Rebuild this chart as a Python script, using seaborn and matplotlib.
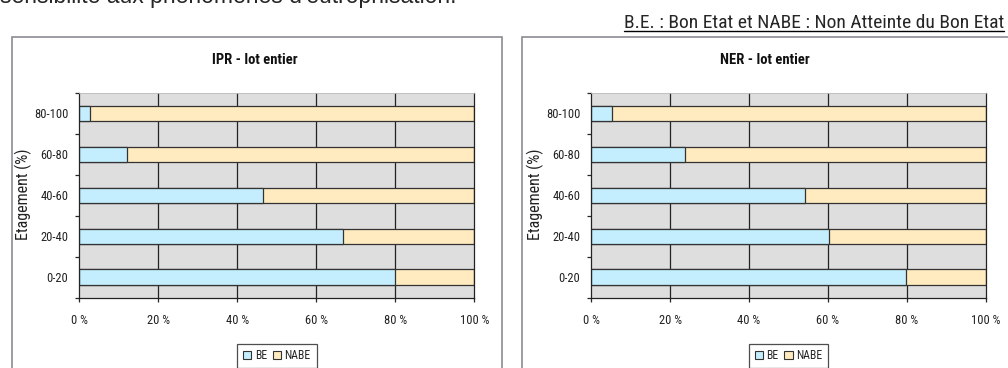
import numpy as np
import pandas as pd
import seaborn as sns
from matplotlib import pyplot as plt
from matplotlib.patches import Rectangle, Patch
from matplotlib.lines import Line2D

# classes d'etagement (du haut vers le bas)
classes = ["80-100", "60-80", "40-60", "20-40", "0-20"]

# parts en % de Bon Etat / Non Atteinte du Bon Etat
ipr_be = [2.8, 12.1, 46.5, 66.7, 79.8]
ipr_nabe = [97.2, 87.9, 53.5, 33.3, 20.2]
ner_be = [5.3, 23.8, 54.1, 60.3, 79.9]
ner_nabe = [94.7, 76.2, 45.9, 39.7, 20.1]

x_ticks = [0, 20, 40, 60, 80, 100]
x_labels = ["0 %", "20 %", "40 %", "60 %", "80 %", "100 %"]

BE_COLOR = "#c4eefd"
NABE_COLOR = "#ffebbf"
NARROW = ["Liberation Sans Narrow", "Roboto Condensed", "Liberation Sans", "DejaVu Sans"]

sns.set_style("white")
plt.rcParams["font.family"] = NARROW

W, H = 1008, 368


def fx(px):
    return px / W


def fy(py):
    return 1 - py / H


def stacked_panel(fig, rect, title, title_x, be, nabe):
    ax = fig.add_axes(rect)
    df = pd.DataFrame({"classe": classes, "BE": be,
                       "total": np.array(be) + np.array(nabe)})
    ax.set_facecolor("#dedede")
    ax.set_axisbelow(True)
    for v in x_ticks[1:-1]:
        ax.axvline(v, color="#222222", lw=0.9, zorder=0)
    sns.barplot(data=df, x="total", y="classe", order=classes, color=NABE_COLOR,
                width=0.37, edgecolor="#333333", linewidth=0.9, saturation=1, ax=ax)
    sns.barplot(data=df, x="BE", y="classe", order=classes, color=BE_COLOR,
                width=0.37, edgecolor="#333333", linewidth=0.9, saturation=1, ax=ax)
    ax.set_xlim(0, 100)
    ax.set_ylim(4.5, -0.5)
    ax.set_xticks(x_ticks)
    ax.set_xticklabels(x_labels, fontsize=9, color="#222222")
    ax.tick_params(axis="x", length=3, width=0.9, pad=9, direction="out", bottom=True)
    ax.set_yticks(range(len(classes)))
    ax.set_yticklabels(classes, fontsize=9, color="#222222")
    ax.tick_params(axis="y", length=0, pad=8)
    ax.set_yticks(np.arange(-0.5, 5, 1), minor=True)
    ax.tick_params(axis="y", which="minor", length=3, width=0.9, left=True)
    ax.set_xlabel("")
    ax.set_ylabel("Etagement (%)", fontsize=11.5, color="#222222")
    ax.yaxis.set_label_coords(-0.12, 0.506)
    for side in ["left", "bottom", "right"]:
        ax.spines[side].set_color("#222222")
        ax.spines[side].set_linewidth(0.9)
    ax.spines["top"].set_color("#bbbbbb")
    ax.spines["top"].set_linewidth(0.6)

    fig.text(title_x, fy(60), title, ha="center", va="center",
             fontsize=10.5, fontweight="bold", color="#111111")

    handles = [Patch(facecolor=BE_COLOR, edgecolor="#333333", lw=0.8, label="BE"),
               Patch(facecolor=NABE_COLOR, edgecolor="#333333", lw=0.8, label="NABE")]
    leg = ax.legend(handles=handles, loc="upper center", bbox_to_anchor=(0.5, -0.225),
                    ncol=2, fontsize=8.5, frameon=True, fancybox=False,
                    handlelength=0.7, handleheight=0.7, handletextpad=0.3,
                    columnspacing=0.5, borderpad=0.5, borderaxespad=0)
    leg.get_frame().set_edgecolor("#222222")
    leg.get_frame().set_linewidth(0.9)
    return ax


fig = plt.figure(figsize=(W / 100, H / 100), dpi=100)

# cadres des graphiques
for x0, x1 in [(12, 502), (522, 1015)]:
    fig.add_artist(Rectangle((fx(x0), fy(375)), fx(x1 - x0), (375 - 37) / H,
                             transform=fig.transFigure, facecolor="white",
                             edgecolor="#8a8c94", lw=1.2, zorder=-1))

stacked_panel(fig, [fx(79.3), fy(297.5), fx(395), 204.5 / H],
              "IPR - lot entier", fx(255), ipr_be, ipr_nabe)
stacked_panel(fig, [fx(591.3), fy(297.5), fx(394.4), 204.5 / H],
              "NER - lot entier", fx(765), ner_be, ner_nabe)

fig.text(fx(0), fy(3.5), "sensibilité aux phénomènes d'eutrophisation.",
         ha="left", va="baseline", fontsize=16.5, family=["Liberation Sans", "DejaVu Sans"])

note = fig.text(fx(1004), fy(28), "B.E. : Bon Etat et NABE : Non Atteinte du Bon Etat",
                ha="right", va="baseline", fontsize=14)
fig.canvas.draw()
bb = note.get_window_extent().transformed(fig.transFigure.inverted())
fig.add_artist(Line2D([bb.x0, bb.x1], [fy(30.7), fy(30.7)], transform=fig.transFigure,
                      color="black", lw=1))

fig.savefig("out.png", dpi=100)
